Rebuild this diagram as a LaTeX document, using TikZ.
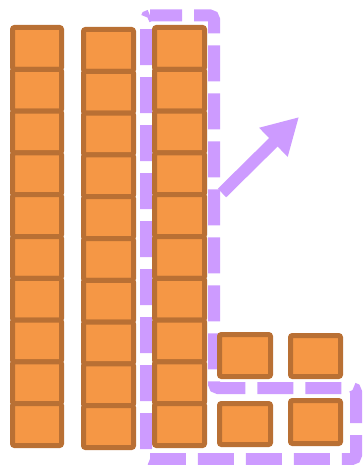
\documentclass[tikz,border=0pt]{standalone}
\usetikzlibrary{arrows.meta}
\definecolor{cellfill}{RGB}{245,151,69}
\definecolor{cellborder}{RGB}{185,112,52}
\definecolor{lilac}{RGB}{205,155,255}
\begin{document}
\begin{tikzpicture}[x=1pt,y=-1pt,
  cell/.style={draw=cellborder, fill=cellfill, line width=5pt, rounded corners=2pt, inner sep=0pt},
  colcellA/.style={cell, minimum width=49pt, minimum height=41.8pt},
  colcellB/.style={cell, minimum width=50pt, minimum height=41.8pt},
  group/.style={draw=lilac, line width=12pt, dash pattern=on 36pt off 12pt, dash phase=4pt, rounded corners=4pt},
  bigarrow/.style={draw=lilac, line width=12pt, -{Triangle[length=36pt,width=38pt]}}]
\useasboundingbox (0,0) rectangle (362,465);
\draw[group] (146,15.5) -- (214,15.5) -- (214,388) -- (356,388) -- (356,459) -- (146,459) -- cycle;
\foreach \i in {0,...,9} {
  \node[colcellA] (a\i) at (37, {27.5+41.8*(\i+0.5)}) {};
  \node[colcellB] (b\i) at (108.5, {29.5+41.8*(\i+0.5)}) {};
  \node[colcellB] (c\i) at (179.5, {27.5+41.8*(\i+0.5)}) {};
}
\node[cell, minimum width=51pt, minimum height=42pt] (s1) at (245,355.5) {};
\node[cell, minimum width=50pt, minimum height=41pt] (s2) at (315.5,356) {};
\node[cell, minimum width=51pt, minimum height=41pt] (s3) at (245,424) {};
\node[cell, minimum width=50pt, minimum height=43pt] (s4) at (315.5,422) {};
\coordinate (arrS) at (222,193);
\coordinate (arrE) at (299,117);
\draw[bigarrow] (arrS) -- (arrE);
\end{tikzpicture}
\end{document}
